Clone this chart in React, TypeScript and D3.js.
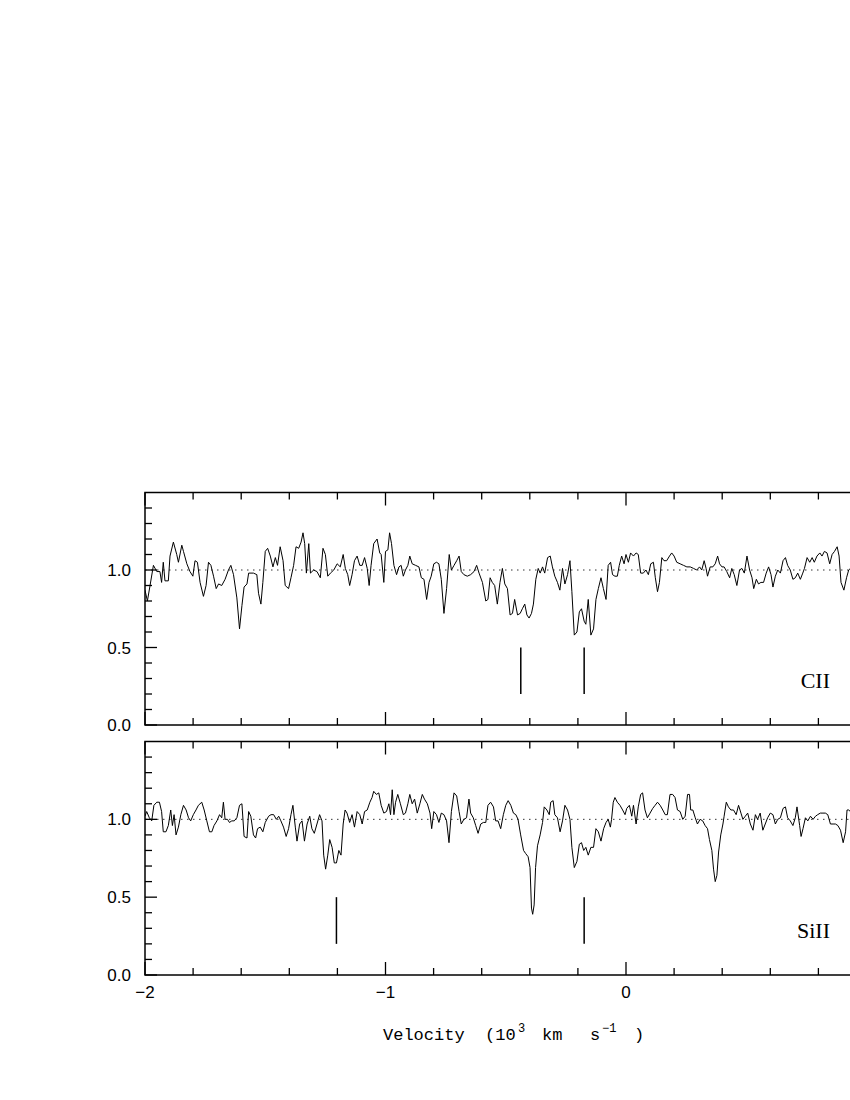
import React from 'react';
import * as d3 from 'd3';

// CII spectrum: velocity (10^3 km/s) and normalised flux
const ciiVel = [
  -2.000, -1.990, -1.979, -1.965, -1.951, -1.938, -1.931, -1.924, -1.917, -1.903, -1.896, -1.882, -1.868, -1.861,
  -1.847, -1.840, -1.826, -1.813, -1.801, -1.792, -1.782, -1.771, -1.757, -1.746, -1.736, -1.726, -1.715, -1.704,
  -1.694, -1.681, -1.667, -1.653, -1.643, -1.632, -1.618, -1.607, -1.597, -1.588, -1.576, -1.569, -1.549, -1.535,
  -1.528, -1.518, -1.510, -1.500, -1.490, -1.479, -1.468, -1.458, -1.449, -1.438, -1.426, -1.417, -1.403, -1.393,
  -1.382, -1.372, -1.361, -1.351, -1.343, -1.336, -1.329, -1.319, -1.312, -1.299, -1.285, -1.271, -1.260, -1.250,
  -1.240, -1.229, -1.215, -1.201, -1.188, -1.176, -1.167, -1.157, -1.149, -1.139, -1.129, -1.118, -1.107, -1.097,
  -1.087, -1.076, -1.068, -1.060, -1.049, -1.035, -1.024, -1.018, -1.007, -1.000, -0.990, -0.983, -0.975, -0.965,
  -0.954, -0.944, -0.935, -0.926, -0.917, -0.907, -0.899, -0.889, -0.875, -0.861, -0.851, -0.840, -0.829, -0.819,
  -0.810, -0.799, -0.788, -0.778, -0.768, -0.757, -0.746, -0.735, -0.726, -0.715, -0.704, -0.694, -0.685, -0.674,
  -0.660, -0.646, -0.632, -0.621, -0.611, -0.597, -0.583, -0.574, -0.565, -0.556, -0.546, -0.535, -0.524, -0.514,
  -0.504, -0.493, -0.482, -0.472, -0.463, -0.451, -0.440, -0.431, -0.421, -0.412, -0.403, -0.393, -0.385, -0.375,
  -0.365, -0.357, -0.347, -0.338, -0.326, -0.315, -0.306, -0.296, -0.285, -0.275, -0.264, -0.254, -0.243, -0.233,
  -0.225, -0.215, -0.204, -0.194, -0.185, -0.174, -0.167, -0.157, -0.146, -0.135, -0.125, -0.115, -0.104, -0.094,
  -0.083, -0.074, -0.064, -0.056, -0.046, -0.036, -0.028, -0.018, -0.008, 0.000, 0.010, 0.019, 0.031, 0.042,
  0.051, 0.061, 0.072, 0.083, 0.093, 0.103, 0.114, 0.122, 0.131, 0.139, 0.149, 0.158, 0.169, 0.181,
  0.190, 0.200, 0.211, 0.225, 0.239, 0.253, 0.267, 0.281, 0.294, 0.306, 0.315, 0.325, 0.333, 0.339,
  0.350, 0.361, 0.371, 0.381, 0.389, 0.399, 0.408, 0.419, 0.431, 0.440, 0.450, 0.461, 0.472, 0.482,
  0.492, 0.503, 0.514, 0.524, 0.531, 0.542, 0.551, 0.561, 0.572, 0.583, 0.593, 0.603, 0.611, 0.621,
  0.631, 0.642, 0.653, 0.663, 0.672, 0.683, 0.694, 0.704, 0.714, 0.725, 0.735, 0.742, 0.753, 0.764,
  0.774, 0.783, 0.794, 0.806, 0.815, 0.825, 0.836, 0.847, 0.857, 0.867, 0.878, 0.886, 0.894, 0.906,
  0.917, 0.926, 0.933, 0.950, 0.970, 0.990
];
const ciiFlux = [
  0.87, 0.80, 0.90, 1.03, 0.99, 0.99, 0.92, 1.05, 0.93, 0.93, 1.09, 1.18, 1.10, 1.05,
  1.16, 1.12, 1.04, 0.99, 0.96, 1.06, 1.05, 0.92, 0.83, 0.90, 1.05, 1.03, 0.96, 0.88,
  0.91, 0.90, 0.94, 1.00, 1.03, 0.97, 0.82, 0.62, 0.77, 0.89, 0.91, 0.98, 0.98, 0.97,
  0.85, 0.78, 0.92, 1.12, 1.14, 1.09, 1.02, 1.08, 1.03, 1.15, 1.06, 0.90, 0.88, 0.95,
  1.03, 1.15, 1.14, 1.18, 1.24, 1.17, 0.98, 1.17, 0.98, 1.00, 0.99, 0.95, 1.14, 1.10,
  0.96, 0.98, 1.00, 1.04, 1.02, 1.10, 1.01, 0.97, 0.90, 0.97, 1.06, 1.09, 1.03, 1.03,
  1.08, 1.01, 0.90, 1.03, 1.17, 1.20, 1.11, 1.10, 0.92, 1.12, 1.13, 1.24, 1.17, 1.03,
  0.97, 1.02, 1.03, 0.96, 1.00, 1.03, 1.09, 1.04, 1.03, 1.02, 0.95, 0.94, 0.81, 0.92,
  0.96, 1.04, 1.05, 1.04, 0.94, 0.72, 0.88, 1.10, 1.00, 1.03, 1.06, 1.09, 0.99, 0.97,
  0.96, 0.97, 0.99, 1.03, 0.98, 0.92, 0.80, 0.81, 0.95, 0.92, 0.90, 0.78, 0.92, 1.01,
  0.91, 0.88, 0.71, 0.72, 0.81, 0.71, 0.72, 0.75, 0.78, 0.71, 0.69, 0.72, 0.78, 0.94,
  1.01, 0.98, 1.02, 0.98, 1.08, 1.09, 1.02, 0.96, 0.92, 0.87, 1.01, 0.91, 0.97, 1.06,
  0.86, 0.58, 0.60, 0.73, 0.75, 0.67, 0.65, 0.81, 0.58, 0.62, 0.81, 0.88, 0.95, 0.88,
  0.81, 1.03, 1.05, 0.97, 0.96, 0.96, 1.03, 1.09, 1.04, 1.10, 1.05, 1.11, 1.09, 1.11,
  1.10, 0.98, 0.98, 1.00, 0.97, 1.04, 1.05, 0.95, 0.86, 0.92, 1.08, 1.06, 1.06, 1.09,
  1.11, 1.09, 1.05, 1.04, 1.03, 1.02, 1.02, 1.01, 1.00, 1.02, 1.00, 1.06, 1.01, 0.96,
  1.02, 1.02, 1.04, 1.09, 1.04, 1.02, 1.02, 0.99, 0.95, 1.01, 0.97, 0.90, 1.00, 1.01,
  0.98, 1.09, 1.00, 0.95, 0.88, 0.94, 0.91, 0.92, 0.92, 0.98, 1.02, 0.97, 0.89, 0.96,
  1.00, 0.98, 1.06, 1.08, 1.03, 1.00, 0.94, 0.95, 0.98, 0.94, 0.98, 1.01, 1.08, 1.05,
  1.08, 1.05, 1.09, 1.11, 1.09, 1.12, 1.11, 1.04, 1.10, 1.12, 1.15, 1.09, 0.92, 0.87,
  0.95, 1.00, 1.01, 1.03, 1.00, 1.02
];

// SiII spectrum
const siiVel = [
  -2.000, -1.993, -1.982, -1.972, -1.963, -1.951, -1.940, -1.931, -1.924, -1.913, -1.903, -1.893, -1.886, -1.879,
  -1.871, -1.861, -1.851, -1.840, -1.829, -1.819, -1.810, -1.799, -1.788, -1.778, -1.764, -1.754, -1.743, -1.732,
  -1.722, -1.713, -1.701, -1.690, -1.681, -1.674, -1.667, -1.657, -1.649, -1.639, -1.629, -1.618, -1.607, -1.597,
  -1.588, -1.576, -1.569, -1.560, -1.549, -1.540, -1.532, -1.521, -1.510, -1.500, -1.486, -1.476, -1.465, -1.454,
  -1.444, -1.435, -1.424, -1.413, -1.403, -1.393, -1.385, -1.375, -1.368, -1.357, -1.347, -1.337, -1.326, -1.315,
  -1.306, -1.296, -1.285, -1.274, -1.264, -1.257, -1.249, -1.240, -1.232, -1.222, -1.213, -1.204, -1.194, -1.185,
  -1.176, -1.168, -1.160, -1.149, -1.139, -1.129, -1.118, -1.107, -1.097, -1.087, -1.076, -1.065, -1.056, -1.049,
  -1.038, -1.028, -1.018, -1.007, -0.996, -0.986, -0.979, -0.972, -0.965, -0.958, -0.949, -0.938, -0.926, -0.917,
  -0.907, -0.899, -0.889, -0.879, -0.868, -0.857, -0.847, -0.838, -0.826, -0.815, -0.808, -0.799, -0.788, -0.778,
  -0.768, -0.757, -0.746, -0.736, -0.726, -0.715, -0.704, -0.694, -0.685, -0.674, -0.663, -0.653, -0.646, -0.635,
  -0.625, -0.615, -0.604, -0.593, -0.583, -0.574, -0.563, -0.551, -0.542, -0.532, -0.521, -0.510, -0.500, -0.490,
  -0.479, -0.468, -0.458, -0.449, -0.438, -0.426, -0.417, -0.407, -0.399, -0.393, -0.388, -0.382, -0.376, -0.368,
  -0.357, -0.347, -0.340, -0.329, -0.319, -0.313, -0.303, -0.296, -0.285, -0.274, -0.264, -0.254, -0.243, -0.233,
  -0.225, -0.215, -0.204, -0.194, -0.185, -0.176, -0.167, -0.157, -0.146, -0.135, -0.125, -0.115, -0.104, -0.093,
  -0.083, -0.074, -0.065, -0.060, -0.053, -0.046, -0.036, -0.025, -0.014, -0.004, 0.003, 0.014, 0.024, 0.031,
  0.042, 0.051, 0.061, 0.069, 0.079, 0.089, 0.100, 0.111, 0.121, 0.131, 0.142, 0.153, 0.163, 0.172,
  0.183, 0.194, 0.204, 0.214, 0.225, 0.236, 0.246, 0.256, 0.264, 0.269, 0.278, 0.288, 0.297, 0.308,
  0.319, 0.329, 0.339, 0.347, 0.357, 0.364, 0.371, 0.378, 0.385, 0.394, 0.403, 0.408, 0.417, 0.426,
  0.436, 0.447, 0.458, 0.468, 0.478, 0.486, 0.496, 0.506, 0.517, 0.528, 0.538, 0.547, 0.558, 0.569,
  0.579, 0.589, 0.600, 0.611, 0.621, 0.631, 0.642, 0.653, 0.663, 0.672, 0.683, 0.694, 0.704, 0.711,
  0.722, 0.728, 0.736, 0.746, 0.756, 0.767, 0.778, 0.788, 0.797, 0.808, 0.819, 0.829, 0.839, 0.850,
  0.861, 0.871, 0.881, 0.892, 0.903, 0.913, 0.919, 0.926, 0.933, 0.950, 0.970, 0.990
];
const siiFlux = [
  1.02, 1.05, 1.01, 0.99, 1.09, 1.11, 1.11, 1.05, 0.92, 0.92, 0.96, 1.06, 0.96, 1.03,
  0.90, 0.95, 1.03, 1.09, 1.06, 1.01, 0.99, 1.03, 1.06, 1.09, 1.11, 1.06, 0.99, 0.92,
  0.92, 0.96, 0.99, 1.03, 1.01, 1.11, 1.00, 1.00, 0.98, 0.99, 0.99, 1.01, 1.09, 1.10,
  0.89, 0.88, 1.05, 1.02, 0.90, 0.88, 0.94, 0.95, 0.92, 0.98, 1.02, 1.03, 1.03, 1.00,
  1.02, 0.99, 0.95, 0.89, 0.94, 1.03, 1.09, 0.95, 0.86, 0.97, 0.99, 0.86, 0.97, 1.02,
  0.94, 0.91, 0.97, 1.03, 0.99, 0.77, 0.68, 0.77, 0.87, 0.82, 0.72, 0.72, 0.80, 0.77,
  0.97, 1.06, 1.04, 0.98, 1.03, 0.95, 1.05, 1.03, 0.97, 1.05, 1.06, 1.11, 1.14, 1.18,
  1.16, 1.17, 1.09, 1.04, 1.05, 1.10, 1.03, 1.19, 1.03, 1.11, 1.16, 1.10, 1.03, 1.04,
  1.10, 1.16, 1.10, 1.13, 1.04, 1.10, 1.16, 1.13, 1.10, 1.04, 0.94, 1.05, 1.03, 0.98,
  1.04, 1.03, 0.99, 0.85, 1.05, 1.17, 1.15, 1.05, 0.97, 1.00, 1.01, 1.13, 1.04, 1.01,
  0.96, 0.91, 0.97, 0.98, 0.98, 1.09, 1.11, 1.08, 0.99, 0.99, 0.94, 1.03, 1.09, 1.12,
  1.09, 1.04, 1.03, 1.00, 0.90, 0.80, 0.78, 0.76, 0.69, 0.43, 0.39, 0.45, 0.69, 0.83,
  0.90, 0.98, 1.08, 1.06, 1.03, 1.11, 1.12, 1.03, 1.01, 0.92, 0.99, 1.09, 1.06, 1.00,
  0.82, 0.69, 0.73, 0.84, 0.85, 0.80, 0.82, 0.77, 0.82, 0.82, 0.94, 0.92, 0.86, 0.94,
  0.98, 1.00, 0.95, 1.00, 1.11, 1.14, 1.11, 1.09, 1.06, 1.03, 1.07, 1.09, 1.02, 1.09,
  0.97, 1.08, 1.16, 1.17, 1.06, 1.01, 1.04, 1.07, 1.09, 1.11, 1.09, 1.06, 1.03, 1.03,
  1.16, 1.16, 1.14, 1.06, 1.05, 1.00, 1.02, 1.16, 1.16, 1.06, 1.06, 1.01, 0.97, 1.00,
  0.99, 0.96, 0.94, 0.87, 0.80, 0.68, 0.60, 0.64, 0.79, 0.90, 0.97, 1.02, 1.11, 1.08,
  1.06, 1.06, 1.03, 1.09, 1.04, 1.00, 1.02, 1.04, 0.97, 0.93, 1.03, 1.00, 1.04, 0.93,
  0.97, 1.01, 1.04, 1.03, 0.97, 1.00, 1.01, 1.07, 1.08, 1.01, 0.99, 0.96, 1.01, 1.08,
  0.96, 0.89, 0.94, 1.01, 0.99, 1.02, 1.00, 1.02, 1.03, 1.04, 1.04, 1.04, 1.03, 0.97,
  0.97, 0.97, 0.96, 0.93, 0.85, 0.92, 1.06, 1.06, 1.05, 1.03, 1.00, 1.04
];

// component markers (velocity)
const ciiMarks = [-0.4375, -0.174];
const siiMarks = [-1.204, -0.174];

const xMajor = [-2, -1, 0, 1];
const xMinor = [-1.8, -1.6, -1.4, -1.2, -0.8, -0.6, -0.4, -0.2, 0.2, 0.4, 0.6, 0.8];
const yMajor = [0, 0.5, 1.0];
const yMinor = [0.1, 0.2, 0.3, 0.4, 0.6, 0.7, 0.8, 0.9, 1.1, 1.2, 1.3, 1.4];
const xLabels = ['−2', '−1', '0'];
const yLabels = ['0.0', '0.5', '1.0'];

const panels = [
  { id: 'cii', name: 'CII', vel: ciiVel, flux: ciiFlux, marks: ciiMarks, top: 492.5, bottom: 725 },
  { id: 'sii', name: 'SiII', vel: siiVel, flux: siiFlux, marks: siiMarks, top: 741.5, bottom: 975 },
];

const LEFT = 145;
const RIGHT = 866.5;
const SANS = 'Liberation Sans, Arial, sans-serif';
const MONO = 'Liberation Mono, Courier New, monospace';

export default function App() {
  const x = d3.scaleLinear().domain([-2, 1]).range([LEFT, RIGHT]);

  return (
    <svg width={850} height={1100} style={{ position: 'absolute', left: 0, top: 0, background: '#fff' }}>
      <rect x={0} y={0} width={850} height={1100} fill="#fff" />
      {panels.map((p) => {
        const y = d3.scaleLinear().domain([0, 1.5]).range([p.bottom, p.top]);
        const pts = p.vel.map((v, i) => [v, p.flux[i]] as [number, number]);
        const line = d3.line<[number, number]>()
          .x((d) => x(d[0]))
          .y((d) => y(d[1]));
        return (
          <g key={p.id}>
            <defs>
              <clipPath id={'clip-' + p.id}>
                <rect x={LEFT} y={p.top} width={RIGHT - LEFT} height={p.bottom - p.top} />
              </clipPath>
            </defs>
            {/* continuum */}
            <line x1={LEFT} x2={RIGHT} y1={y(1)} y2={y(1)} stroke="#000" strokeWidth={0.8}
              strokeDasharray="1.5,4.5" />
            <path d={line(pts) || ''} fill="none" stroke="#000" strokeWidth={1}
              clipPath={`url(#clip-${p.id})`} />
            {p.marks.map((m) => (
              <line key={m} x1={x(m)} x2={x(m)} y1={y(0.5)} y2={y(0.2)} stroke="#000" strokeWidth={1.5} />
            ))}
            {/* frame */}
            <rect x={LEFT} y={p.top} width={RIGHT - LEFT} height={p.bottom - p.top}
              fill="none" stroke="#000" strokeWidth={1.5} />
            {xMajor.map((t) => (
              <g key={'xM' + t}>
                <line x1={x(t)} x2={x(t)} y1={p.bottom} y2={p.bottom - 13} stroke="#000" strokeWidth={1.3} />
                <line x1={x(t)} x2={x(t)} y1={p.top} y2={p.top + 13} stroke="#000" strokeWidth={1.3} />
              </g>
            ))}
            {xMinor.map((t) => (
              <g key={'xm' + t}>
                <line x1={x(t)} x2={x(t)} y1={p.bottom} y2={p.bottom - 7} stroke="#000" strokeWidth={1.3} />
                <line x1={x(t)} x2={x(t)} y1={p.top} y2={p.top + 7} stroke="#000" strokeWidth={1.3} />
              </g>
            ))}
            {yMajor.map((t, i) => (
              <g key={'yM' + t}>
                <line x1={LEFT} x2={LEFT + 12} y1={y(t)} y2={y(t)} stroke="#000" strokeWidth={1.3} />
                <text x={131} y={y(t)} dy="0.36em" textAnchor="end" fontFamily={SANS}
                  fontSize={17}>{yLabels[i]}</text>
              </g>
            ))}
            {yMinor.map((t) => (
              <line key={'ym' + t} x1={LEFT} x2={LEFT + 7} y1={y(t)} y2={y(t)} stroke="#000" strokeWidth={1.3} />
            ))}
            <text x={830} y={p.bottom - 37} textAnchor="end" fontFamily="Liberation Serif, Times New Roman, serif"
              fontSize={22}>{p.name}</text>
          </g>
        );
      })}
      {xLabels.map((l, i) => (
        <text key={l} x={x(xMajor[i])} y={998} textAnchor="middle"
          fontFamily={SANS} fontSize={17}>{l}</text>
      ))}
      <text y={1040} fontFamily={MONO} fontSize={17}>
        <tspan x={383}>Velocity</tspan>
        <tspan x={485}>(10</tspan>
        <tspan x={518} dy={-8} fontSize={12}>3</tspan>
        <tspan x={542} dy={8}>km</tspan>
        <tspan x={590}>s</tspan>
        <tspan x={602} dy={-8} fontSize={12}>−1</tspan>
        <tspan x={634} dy={8}>)</tspan>
      </text>
    </svg>
  );
}
